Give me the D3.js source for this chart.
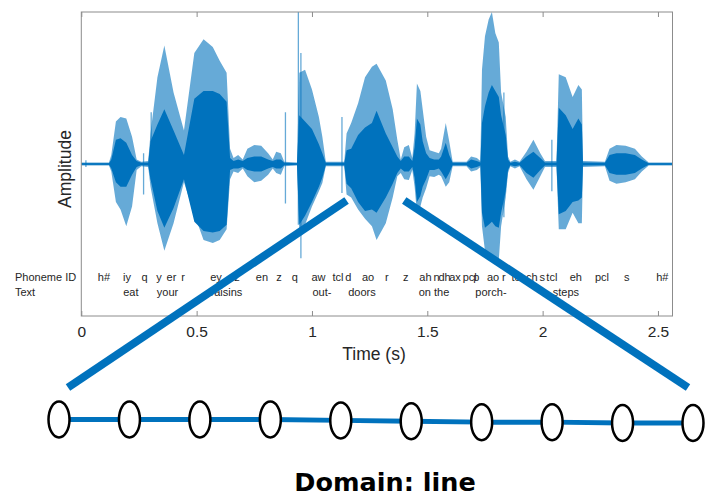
<!DOCTYPE html>
<html><head><meta charset="utf-8">
<script src="https://cdn.jsdelivr.net/npm/d3@7"></script>
<style>
body{margin:0;background:#fff}
svg{display:block;font-family:"Liberation Sans",Arial,Helvetica,sans-serif}
</style>
</head><body>
<svg id="c" width="708" height="497"></svg>
<script>
// ---------------- data ----------------
const xTicks = [0, 0.5, 1, 1.5, 2, 2.5];
const xTickLabels = ["0", "0.5", "1", "1.5", "2", "2.5"];
const timeMax = 2.563;

// waveform envelope (time in s, amplitude normalised)
const envTime   = [0.000,0.120,0.130,0.150,0.170,0.195,0.220,0.240,0.260,0.290,0.300,0.330,0.360,0.400,0.445,0.490,0.530,0.570,0.600,0.630,0.645,0.660,0.680,0.700,0.720,0.750,0.780,0.810,0.830,0.845,0.865,0.880,0.935,0.945,0.970,1.000,1.030,1.045,1.060,1.140,1.150,1.170,1.200,1.230,1.260,1.280,1.320,1.350,1.370,1.385,1.400,1.420,1.435,1.445,1.455,1.470,1.480,1.495,1.510,1.530,1.550,1.560,1.580,1.595,1.610,1.670,1.690,1.715,1.730,1.737,1.750,1.766,1.780,1.795,1.810,1.820,1.840,1.850,1.860,1.880,1.900,1.930,1.960,1.990,2.010,2.060,2.070,2.100,2.130,2.155,2.170,2.175,2.270,2.290,2.320,2.360,2.400,2.430,2.460,2.563];
const outerHigh = [0.010,0.010,0.060,0.280,0.310,0.300,0.180,0.030,0.015,0.020,0.200,0.570,0.780,0.470,0.220,0.730,0.820,0.770,0.680,0.600,0.100,0.040,0.060,0.030,0.100,0.125,0.120,0.070,0.030,0.080,0.070,0.015,0.010,0.600,0.620,0.490,0.310,0.180,0.015,0.015,0.200,0.270,0.400,0.570,0.640,0.660,0.550,0.360,0.160,0.030,0.110,0.125,0.040,0.200,0.530,0.480,0.360,0.180,0.090,0.080,0.070,0.100,0.270,0.150,0.015,0.015,0.050,0.040,0.020,0.620,0.840,0.950,1.000,0.860,0.800,0.470,0.310,0.050,0.015,0.030,0.015,0.080,0.160,0.070,0.020,0.020,0.590,0.570,0.440,0.520,0.490,0.020,0.015,0.100,0.125,0.120,0.100,0.050,0.010,0.010];
const outerLow  = [-0.010,-0.010,-0.050,-0.250,-0.300,-0.410,-0.280,-0.040,-0.015,-0.020,-0.150,-0.390,-0.570,-0.390,-0.120,-0.330,-0.500,-0.520,-0.500,-0.430,-0.100,-0.050,-0.060,-0.030,-0.080,-0.120,-0.110,-0.070,-0.030,-0.060,-0.070,-0.015,-0.010,-0.450,-0.400,-0.280,-0.180,-0.125,-0.015,-0.015,-0.200,-0.220,-0.300,-0.360,-0.410,-0.500,-0.390,-0.220,-0.080,-0.060,-0.100,-0.105,-0.040,-0.150,-0.320,-0.280,-0.220,-0.160,-0.080,-0.085,-0.070,-0.080,-0.150,-0.120,-0.015,-0.015,-0.050,-0.040,-0.020,-0.410,-0.570,-0.580,-0.610,-0.620,-0.630,-0.410,-0.220,-0.060,-0.015,-0.030,-0.015,-0.100,-0.170,-0.080,-0.020,-0.020,-0.430,-0.430,-0.320,-0.390,-0.390,-0.020,-0.015,-0.110,-0.130,-0.120,-0.100,-0.050,-0.010,-0.010];
const coreHigh  = [0.005,0.005,0.030,0.160,0.170,0.140,0.060,0.020,0.008,0.010,0.150,0.260,0.360,0.220,0.060,0.430,0.480,0.480,0.460,0.410,0.040,0.020,0.030,0.020,0.040,0.050,0.050,0.030,0.020,0.030,0.030,0.008,0.005,0.320,0.280,0.230,0.130,0.070,0.008,0.008,0.090,0.100,0.190,0.240,0.270,0.350,0.200,0.110,0.050,0.020,0.050,0.050,0.020,0.110,0.300,0.260,0.150,0.070,0.040,0.030,0.030,0.050,0.140,0.060,0.008,0.008,0.030,0.020,0.010,0.270,0.380,0.470,0.520,0.480,0.440,0.320,0.190,0.030,0.008,0.015,0.008,0.050,0.080,0.040,0.010,0.010,0.370,0.320,0.230,0.300,0.260,0.010,0.008,0.060,0.070,0.070,0.060,0.030,0.005,0.005];
const coreLow   = [-0.005,-0.005,-0.030,-0.120,-0.150,-0.150,-0.070,-0.020,-0.008,-0.010,-0.100,-0.310,-0.420,-0.290,-0.100,-0.380,-0.440,-0.450,-0.440,-0.400,-0.040,-0.030,-0.030,-0.020,-0.040,-0.050,-0.050,-0.030,-0.020,-0.030,-0.030,-0.008,-0.005,-0.400,-0.340,-0.250,-0.150,-0.090,-0.008,-0.008,-0.130,-0.160,-0.250,-0.310,-0.300,-0.320,-0.220,-0.130,-0.060,-0.030,-0.050,-0.050,-0.020,-0.090,-0.250,-0.210,-0.150,-0.100,-0.040,-0.040,-0.030,-0.050,-0.100,-0.060,-0.008,-0.008,-0.030,-0.020,-0.010,-0.320,-0.420,-0.400,-0.380,-0.410,-0.420,-0.320,-0.180,-0.040,-0.008,-0.015,-0.008,-0.060,-0.090,-0.040,-0.010,-0.010,-0.330,-0.310,-0.250,-0.240,-0.220,-0.010,-0.008,-0.060,-0.070,-0.070,-0.060,-0.030,-0.005,-0.005];

// isolated spikes
const spikeTime = [0.020, 0.270, 0.303, 0.885, 0.941, 0.952, 1.130, 1.832, 2.040];
const spikeHigh = [0.025, 0.07, 0.34, 0.34, 1.00, 0.73, 0.31, 0.47, 0.16];
const spikeLow  = [-0.020, -0.20, -0.10, -0.26, -0.40, -0.62, -0.19, -0.35, -0.18];

// phoneme and word labels
const phonemes    = ["h#","iy","q","y","er","r","ey","z","en","z","q","aw","tcl","d","ao","r","z","ah","n","dh","ax","pcl","p","ao","r","tcl","ch","s","tcl","eh","pcl","s","h#"];
const phonemeTime = [0.098,0.198,0.274,0.337,0.391,0.441,0.584,0.675,0.783,0.857,0.926,1.028,1.113,1.158,1.243,1.325,1.407,1.492,1.540,1.575,1.620,1.684,1.712,1.785,1.832,1.889,1.953,1.998,2.040,2.144,2.257,2.365,2.519];
const words       = ["eat","your","raisins","out-","doors","on the","porch-","steps"];
const wordTime    = [0.215,0.374,0.629,1.043,1.217,1.529,1.776,2.101];

// zoomed domain (line graph)
const zoomStart = 1.15, zoomEnd = 1.40, zoomAmp = -0.24;
const nodeIndex = [0,1,2,3,4,5,6,7,8,9];
const nodeDrift = [0,0,0,0,0.5,1,1.5,1.5,2,2];

// ---------------- drawing ----------------
const svg = d3.select("#c");
const BLUE = "#0072BD";
const AX = {left:81.3, right:672.5, top:12, bottom:316};
const x = d3.scaleLinear().domain([0, timeMax]).range([AX.left, AX.right]);
const y = d3.scaleLinear().domain([-1, 1]).range([AX.bottom, AX.top]);

svg.append("defs").append("clipPath").attr("id","clip")
  .append("rect").attr("x",AX.left).attr("y",AX.top)
  .attr("width",AX.right-AX.left).attr("height",AX.bottom-AX.top);

const idx = d3.range(envTime.length);
const wave = svg.append("g").attr("clip-path","url(#clip)");
wave.append("path")
  .attr("d", d3.area().x(i=>x(envTime[i])).y0(i=>y(outerLow[i])).y1(i=>y(outerHigh[i]))(idx))
  .attr("fill", BLUE).attr("fill-opacity", 0.6);
wave.selectAll("line.spike").data(d3.range(spikeTime.length)).join("line")
  .attr("class","spike")
  .attr("x1",i=>x(spikeTime[i])).attr("x2",i=>x(spikeTime[i]))
  .attr("y1",i=>y(spikeHigh[i])).attr("y2",i=>y(spikeLow[i]))
  .attr("stroke",BLUE).attr("stroke-opacity",0.6).attr("stroke-width",1.3);
wave.append("path")
  .attr("d", d3.area().x(i=>x(envTime[i])).y0(i=>y(coreLow[i])).y1(i=>y(coreHigh[i]))(idx))
  .attr("fill", BLUE);
wave.append("line")
  .attr("x1",x(0)).attr("x2",x(timeMax)).attr("y1",y(0)).attr("y2",y(0))
  .attr("stroke",BLUE).attr("stroke-width",1.2);

// axes box
const AXC = "#8c8c8c";
svg.append("rect").attr("x",AX.left).attr("y",AX.top)
  .attr("width",AX.right-AX.left).attr("height",AX.bottom-AX.top)
  .attr("fill","none").attr("stroke",AXC).attr("stroke-width",1);

const gx = svg.append("g").attr("transform",`translate(0,${AX.bottom})`)
  .call(d3.axisBottom(x).tickValues(xTicks).tickFormat((d,i)=>xTickLabels[i])
        .tickSizeInner(-5).tickSizeOuter(0).tickPadding(10));
gx.select(".domain").remove();
gx.selectAll(".tick line").attr("stroke",AXC);
gx.selectAll(".tick text").attr("fill","#262626").style("font-size","15.5px")
  .style("font-family",'"Liberation Sans",Arial,sans-serif');

const gt = svg.append("g").attr("transform",`translate(0,${AX.top})`)
  .call(d3.axisTop(x).tickValues(xTicks).tickFormat("").tickSizeInner(-5).tickSizeOuter(0));
gt.select(".domain").remove();
gt.selectAll(".tick line").attr("stroke",AXC);

svg.append("text").attr("x",374).attr("y",360).attr("text-anchor","middle")
  .attr("fill","#262626").style("font-size","17.5px").text("Time (s)");
svg.append("text").attr("transform","translate(71,169) rotate(-90)")
  .attr("text-anchor","middle").attr("fill","#262626").style("font-size","17.5px").text("Amplitude");

// phoneme / word rows
const rowP = 281, rowW = 296;
svg.append("text").attr("x",15).attr("y",rowP).attr("fill","#262626").style("font-size","11px").text("Phoneme ID");
svg.append("text").attr("x",15).attr("y",rowW).attr("fill","#262626").style("font-size","11px").text("Text");
svg.append("g").selectAll("text").data(phonemes).join("text")
  .attr("x",(d,i)=>x(phonemeTime[i])).attr("y",rowP).attr("text-anchor","middle")
  .attr("fill","#262626").style("font-size","11px").text(d=>d);
svg.append("g").selectAll("text").data(words).join("text")
  .attr("x",(d,i)=>x(wordTime[i])).attr("y",rowW).attr("text-anchor","middle")
  .attr("fill","#262626").style("font-size","11px").text(d=>d);

// line-graph nodes
const nx = d3.scaleLinear().domain([0,9]).range([59,693]);
const ny = d3.scaleLinear().domain([0,2]).range([419.5,423]);

// zoom connectors
svg.append("line").attr("x1",x(zoomStart)).attr("y1",y(zoomAmp))
  .attr("x2",nx(0)+9).attr("y2",ny(0)-32)
  .attr("stroke",BLUE).attr("stroke-width",8);
svg.append("line").attr("x1",x(zoomEnd)).attr("y1",y(zoomAmp))
  .attr("x2",nx(9)-5).attr("y2",ny(0)-32)
  .attr("stroke",BLUE).attr("stroke-width",8);

// edges
svg.append("g").selectAll("line").data(nodeIndex.slice(0,-1)).join("line")
  .attr("x1",i=>nx(nodeIndex[i])).attr("y1",i=>ny(nodeDrift[i]))
  .attr("x2",i=>nx(nodeIndex[i+1])).attr("y2",i=>ny(nodeDrift[i+1]))
  .attr("stroke",BLUE).attr("stroke-width",5);
// nodes
svg.append("g").selectAll("ellipse").data(nodeIndex).join("ellipse")
  .attr("cx",i=>nx(i)).attr("cy",i=>ny(nodeDrift[i]))
  .attr("rx",10.5).attr("ry",18)
  .attr("fill","#fff").attr("stroke","#000").attr("stroke-width",2.5);

svg.append("text").attr("x",385).attr("y",491).attr("text-anchor","middle")
  .style("font-family",'"DejaVu Sans",sans-serif').style("font-weight","bold")
  .style("font-size","25.5px").attr("fill","#000").text("Domain: line");
</script>
</body></html>
